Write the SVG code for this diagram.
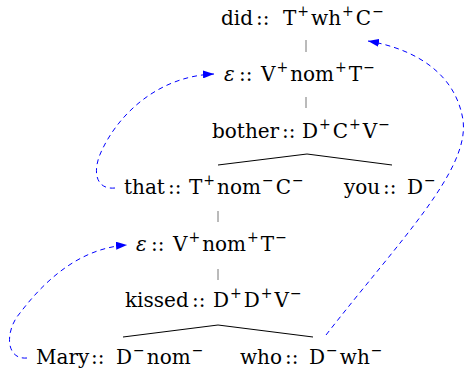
<svg xmlns="http://www.w3.org/2000/svg" width="465" height="376" viewBox="0 0 465 376">
<style>
text{font-family:"DejaVu Serif",serif;font-size:20px;fill:#000}
.s{font-size:14px}
.e{font-style:italic}
.stem{stroke:#777;stroke-width:1}
.tree{stroke:#000;stroke-width:1;fill:none}
.mv{stroke:#0000ff;stroke-width:1;fill:none;stroke-dasharray:5,4}
</style>
<defs>
<marker id="ah" viewBox="0 0 11 8" refX="11" refY="4" markerWidth="11" markerHeight="8" markerUnits="userSpaceOnUse" orient="auto">
<path d="M0,0 L11,4 L0,8 Z" fill="#0000ff"/>
</marker>
</defs>
<g id="n-did"><text y="25"><tspan x="221">did</tspan><tspan x="256">::</tspan><tspan x="283">T</tspan><tspan class="s" dx="1" dy="-9">+</tspan><tspan dx="2" dy="9">wh</tspan><tspan class="s" dx="1" dy="-9">+</tspan><tspan dx="2" dy="9">C</tspan><tspan class="s" dx="1" dy="-9">−</tspan></text></g>
<g id="n-eps1"><text y="81"><tspan class="e" x="224">ε</tspan><tspan x="239">::</tspan><tspan x="261">V</tspan><tspan class="s" dx="1" dy="-9">+</tspan><tspan dx="2" dy="9">nom</tspan><tspan class="s" dx="1" dy="-9">+</tspan><tspan dx="2" dy="9">T</tspan><tspan class="s" dx="1" dy="-9">−</tspan></text></g>
<g id="n-bother"><text y="138"><tspan x="212">bother</tspan><tspan x="282">::</tspan><tspan x="302">D</tspan><tspan class="s" dx="1" dy="-9">+</tspan><tspan dx="2" dy="9">C</tspan><tspan class="s" dx="1" dy="-9">+</tspan><tspan dx="2" dy="9">V</tspan><tspan class="s" dx="1" dy="-9">−</tspan></text></g>
<g id="n-that"><text y="194"><tspan x="124">that</tspan><tspan x="168">::</tspan><tspan x="189">T</tspan><tspan class="s" dx="1" dy="-9">+</tspan><tspan dx="2" dy="9">nom</tspan><tspan class="s" dx="1" dy="-9">−</tspan><tspan dx="2" dy="9">C</tspan><tspan class="s" dx="1" dy="-9">−</tspan></text></g>
<g id="n-you"><text y="194"><tspan x="344">you</tspan><tspan x="383">::</tspan><tspan x="407">D</tspan><tspan class="s" dx="1" dy="-9">−</tspan></text></g>
<g id="n-eps2"><text y="251"><tspan class="e" x="136">ε</tspan><tspan x="151">::</tspan><tspan x="173">V</tspan><tspan class="s" dx="1" dy="-9">+</tspan><tspan dx="2" dy="9">nom</tspan><tspan class="s" dx="1" dy="-9">+</tspan><tspan dx="2" dy="9">T</tspan><tspan class="s" dx="1" dy="-9">−</tspan></text></g>
<g id="n-kissed"><text y="307"><tspan x="125">kissed</tspan><tspan x="192">::</tspan><tspan x="213">D</tspan><tspan class="s" dx="1" dy="-9">+</tspan><tspan dx="2" dy="9">D</tspan><tspan class="s" dx="1" dy="-9">+</tspan><tspan dx="2" dy="9">V</tspan><tspan class="s" dx="1" dy="-9">−</tspan></text></g>
<g id="n-mary"><text y="364"><tspan x="36">Mary</tspan><tspan x="91">::</tspan><tspan x="116">D</tspan><tspan class="s" dx="1" dy="-9">−</tspan><tspan dx="2" dy="9">nom</tspan><tspan class="s" dx="1" dy="-9">−</tspan></text></g>
<g id="n-who"><text y="364"><tspan x="240">who</tspan><tspan x="285">::</tspan><tspan x="309">D</tspan><tspan class="s" dx="1" dy="-9">−</tspan><tspan dx="2" dy="9">wh</tspan><tspan class="s" dx="1" dy="-9">−</tspan></text></g>
<g id="connectors">
<line class="stem" x1="306" y1="40" x2="306" y2="52"/>
<line class="stem" x1="306" y1="97" x2="306" y2="108"/>
<line class="stem" x1="218" y1="211" x2="218" y2="222"/>
<line class="stem" x1="218" y1="269" x2="218" y2="280"/>
<polyline class="tree" points="218,165 307,154 392,165"/>
<polyline class="tree" points="123,337 218,325 313,337"/>
<path class="mv" marker-end="url(#ah)" d="M115,188 C95,190 92,170 102,150 C120,112 160,76 214,74"/>
<path class="mv" marker-end="url(#ah)" d="M27,358 C5,360 5,330 20,313 C45,280 80,248 127,245"/>
<path class="mv" marker-end="url(#ah)" d="M326,335 C400,240 470,170 463,120 C455,70 410,48 368,41"/>
</g>
</svg>
